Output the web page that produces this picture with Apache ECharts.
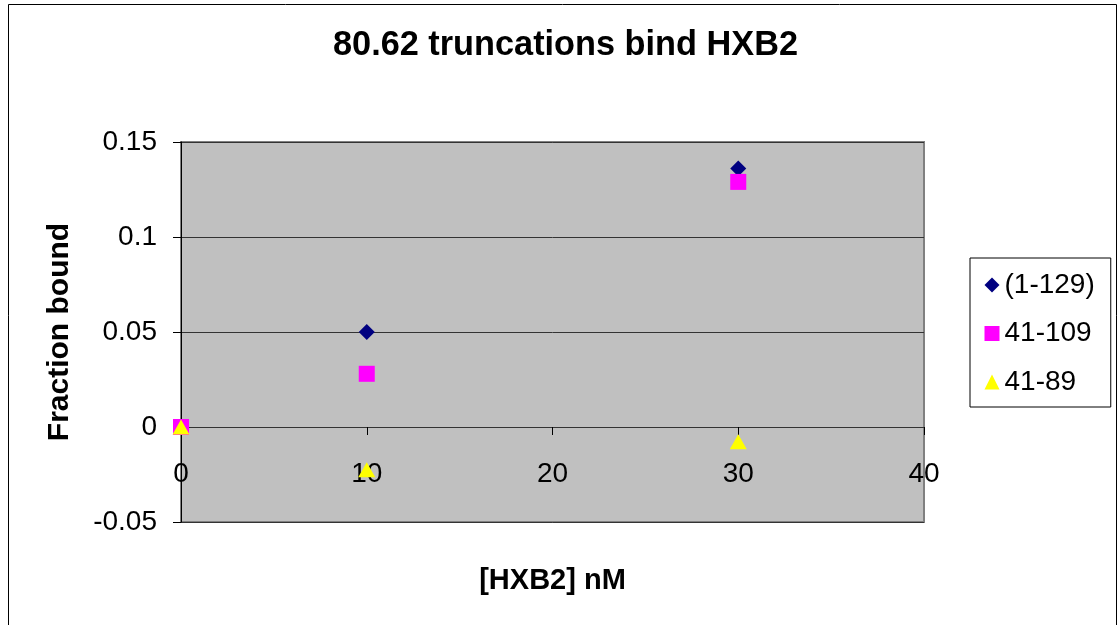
<!DOCTYPE html>
<html>
<head>
<meta charset="utf-8">
<script src="https://cdn.jsdelivr.net/npm/echarts@6/dist/echarts.min.js"></script>
<style>
  html, body { margin: 0; padding: 0; background: #fff; }
  #chart { width: 1118px; height: 625px; }
</style>
</head>
<body>
<div id="chart"></div>
<script>
// ---- data ----
const titleText = '80.62 truncations bind HXB2';
const xAxisName = '[HXB2] nM';
const yAxisName = 'Fraction bound';
const xValues = [0, 10, 30];               // [HXB2] nM
const seriesNames = ['(1-129)', '41-109', '41-89'];
const values_1_129 = [0, 0.05, 0.136];
const values_41_109 = [0, 0.028, 0.129];
const values_41_89 = [0, -0.0225, -0.0077];
const xMin = 0, xMax = 40, xInterval = 10;
const yMin = -0.05, yMax = 0.15, yInterval = 0.05;

const FONT = '"Liberation Sans", Arial, sans-serif';
const colors = ['#000080', '#FF00FF', '#FFFF00'];
const symbols = ['diamond', 'rect', 'triangle'];
const symbolSizes = [[16, 16], [16, 16], [17, 15]];
const allValues = [values_1_129, values_41_109, values_41_89];

function pairs(xs, ys) { return xs.map((x, i) => [x, ys[i]]); }

const chart = echarts.init(document.getElementById('chart'), null, { renderer: 'canvas' });
chart.setOption({
  animation: false,
  backgroundColor: '#fff',
  textStyle: { fontFamily: FONT },
  title: {
    text: titleText,
    left: 333,
    top: 29,
    padding: 0,
    textStyle: { fontFamily: FONT, fontSize: 34.3, fontWeight: 'bold', color: '#000', lineHeight: 34 }
  },
  graphic: [{
    type: 'rect',
    silent: true,
    shape: { x: 8.5, y: 4.5, width: 1108, height: 700 },
    style: { fill: 'none', stroke: '#000', lineWidth: 1 },
    z: -1
  }],
  legend: {
    orient: 'vertical',
    left: 970,
    top: 258,
    padding: [13, 16, 11, 14.5],
    itemGap: 20.5,
    itemWidth: 15,
    itemHeight: 15,
    borderColor: '#000',
    borderWidth: 1,
    backgroundColor: '#fff',
    textStyle: { fontFamily: FONT, fontSize: 28, lineHeight: 28, color: '#000' },
    data: seriesNames.map((n, i) => ({ name: n, icon: symbols[i] }))
  },
  grid: {
    left: 181, top: 142, right: 194, bottom: 103,
    containLabel: false,
    outerBoundsMode: 'none',
    show: true,
    backgroundColor: '#C0C0C0',
    borderColor: '#808080',
    borderWidth: 2
  },
  xAxis: {
    type: 'value',
    min: xMin, max: xMax, interval: xInterval,
    name: xAxisName,
    nameLocation: 'middle',
    nameGap: 44,
    nameTextStyle: { fontFamily: FONT, fontSize: 29, fontWeight: 'bold', color: '#000' },
    axisLine: { show: true, onZero: true, lineStyle: { color: '#333', width: 1 } },
    axisTick: { show: true, length: 8, inside: false, lineStyle: { color: '#000' } },
    axisLabel: { fontFamily: FONT, fontSize: 28, color: '#000', margin: -62 },
    splitLine: { show: false }
  },
  yAxis: {
    type: 'value',
    min: yMin, max: yMax, interval: yInterval,
    name: yAxisName,
    nameLocation: 'middle',
    nameGap: 106,
    nameTextStyle: { fontFamily: FONT, fontSize: 30, fontWeight: 'bold', color: '#000' },
    axisLine: { show: true, onZero: false, lineStyle: { color: '#000', width: 1 } },
    axisTick: { show: true, length: 8, lineStyle: { color: '#000' } },
    axisLabel: { fontFamily: FONT, fontSize: 28, color: '#000', margin: 24 },
    splitLine: { show: true, lineStyle: { color: '#333', width: 1 } }
  },
  series: seriesNames.map((n, i) => ({
    name: n,
    type: 'scatter',
    symbol: symbols[i],
    symbolSize: symbolSizes[i],
    itemStyle: { color: colors[i], opacity: 1 },
    data: pairs(xValues, allValues[i]),
    z: 3 + i
  }))
});
</script>
</body>
</html>
